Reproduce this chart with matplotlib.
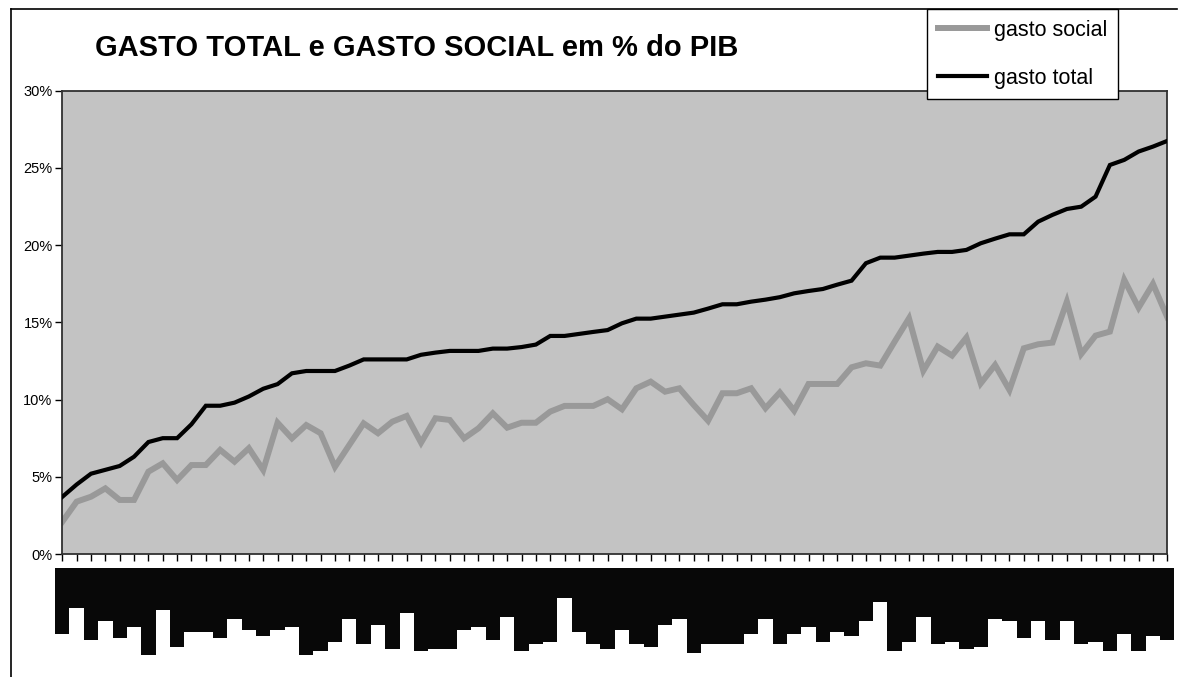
import matplotlib
matplotlib.use("Agg")
import matplotlib.pyplot as plt
from matplotlib.lines import Line2D
from matplotlib.ticker import FuncFormatter

plt.rcParams['font.family'] = ['Liberation Sans', 'DejaVu Sans']

title = "GASTO TOTAL e GASTO SOCIAL em % do PIB"
series_names = ["gasto social", "gasto total"]

gasto_total = [3.7, 4.5, 5.2, 5.45, 5.7, 6.3, 7.25, 7.5, 7.5, 8.4,
               9.6, 9.6, 9.8, 10.2, 10.7, 11.0, 11.7, 11.85, 11.85, 11.85,
               12.2, 12.6, 12.6, 12.6, 12.6, 12.9, 13.04, 13.15, 13.15, 13.15,
               13.3, 13.3, 13.4, 13.56, 14.12, 14.12, 14.25, 14.38, 14.5, 14.94,
               15.24, 15.24, 15.37, 15.5, 15.63, 15.89, 16.17, 16.17, 16.34, 16.47,
               16.63, 16.88, 17.03, 17.16, 17.44, 17.7, 18.83, 19.19, 19.19, 19.32,
               19.45, 19.56, 19.56, 19.69, 20.12, 20.42, 20.7, 20.7, 21.52, 21.96,
               22.34, 22.49, 23.14, 25.19, 25.52, 26.06, 26.38, 26.75]

gasto_social = [2.09, 3.39, 3.71, 4.25, 3.5, 3.5, 5.33, 5.87, 4.79, 5.76,
                5.76, 6.74, 5.98, 6.85, 5.44, 8.5, 7.49, 8.35, 7.82, 5.65,
                7.06, 8.46, 7.82, 8.57, 8.94, 7.21, 8.79, 8.68, 7.49, 8.14,
                9.11, 8.18, 8.5, 8.5, 9.22, 9.59, 9.59, 9.59, 10.02, 9.37,
                10.73, 11.16, 10.51, 10.73, 9.65, 8.63, 10.41, 10.41, 10.73, 9.44,
                10.46, 9.28, 11.01, 11.01, 11.01, 12.09, 12.35, 12.2, 13.75, 15.26,
                11.87, 13.43, 12.85, 14.01, 11.05, 12.24, 10.62, 13.32, 13.58, 13.69,
                16.34, 12.95, 14.14, 14.4, 17.75, 15.95, 17.49, 15.33]

# length of the (obscured) category labels shown as black blocks
label_len = [66, 40, 72, 53, 70, 59, 87, 42, 79, 64,
             64, 70, 51, 62, 68, 62, 59, 87, 83, 74,
             51, 76, 57, 81, 45, 83, 81, 81, 62, 59,
             72, 49, 83, 76, 74, 30, 64, 76, 81, 62,
             76, 79, 57, 51, 85, 76, 76, 76, 66, 51,
             76, 66, 59, 74, 64, 68, 53, 34, 83, 74,
             49, 76, 74, 81, 79, 51, 53, 70, 53, 72,
             53, 76, 74, 83, 66, 83, 68, 72]

yticks = [0, 5, 10, 15, 20, 25, 30]

W, H = 1178, 677
fig = plt.figure(figsize=(W / 100, H / 100), dpi=100)
fig.patch.set_facecolor('white')

# main plot area
L, R, T, B = 62.3, 1167.3, 90.7, 554.0
ax = fig.add_axes([L / W, 1 - B / H, (R - L) / W, (B - T) / H])
ax.set_facecolor('#C3C3C3')
x = list(range(len(gasto_total)))
ax.plot(x, gasto_total, color='black', lw=3.0, solid_joinstyle='miter', zorder=3)
ax.plot(x, gasto_social, color='#999999', lw=4.3, solid_joinstyle='miter', zorder=2)
ax.set_xlim(0, len(x) - 1)
ax.set_ylim(0, 30)
ax.set_yticks(yticks)
ax.yaxis.set_major_formatter(FuncFormatter(lambda v, p: f"{int(v)}%"))
ax.set_xticks(x)
ax.set_xticklabels([])
ax.tick_params(axis='y', direction='out', length=5, width=1, labelsize=10.5, pad=2, colors='black')
ax.tick_params(axis='x', direction='out', length=5, width=1)
for s in ax.spines.values():
    s.set_color('#303030')
    s.set_linewidth(1.3)

# label blocks below the axis
top_px = 567.7
ax2 = fig.add_axes([L / W, 0, (R - L) / W, (H - top_px) / H])
ax2.bar(x, label_len, width=1.0, bottom=0, color='#080808', align='center', clip_on=False)
ax2.set_xlim(0, len(x) - 1)
ax2.set_ylim(H - top_px, 0)
ax2.axis('off')

# title
fig.text(95 / W, 1 - 48 / H, title, fontsize=21, fontweight='bold', ha='left', va='center')

# outer frame
fig.add_artist(Line2D([11 / W, 11 / W], [0, 1 - 9 / H], color='black', lw=1.2, transform=fig.transFigure))
fig.add_artist(Line2D([11 / W, 1177 / W], [1 - 9 / H, 1 - 9 / H], color='black', lw=1.2, transform=fig.transFigure))

# legend
handles = [Line2D([], [], color='#999999', lw=4.3), Line2D([], [], color='black', lw=3.0)]
leg = fig.legend(handles, series_names, loc='upper left', bbox_to_anchor=(927 / W, 1 - 9 / H),
                 borderaxespad=0, fontsize=15.5, handlelength=2.3, handletextpad=0.3,
                 borderpad=0.5, labelspacing=1.25, fancybox=False, framealpha=1,
                 edgecolor='black')
leg.get_frame().set_linewidth(1.0)
leg.set_zorder(10)

fig.savefig('out.png', dpi=100, facecolor='white')
